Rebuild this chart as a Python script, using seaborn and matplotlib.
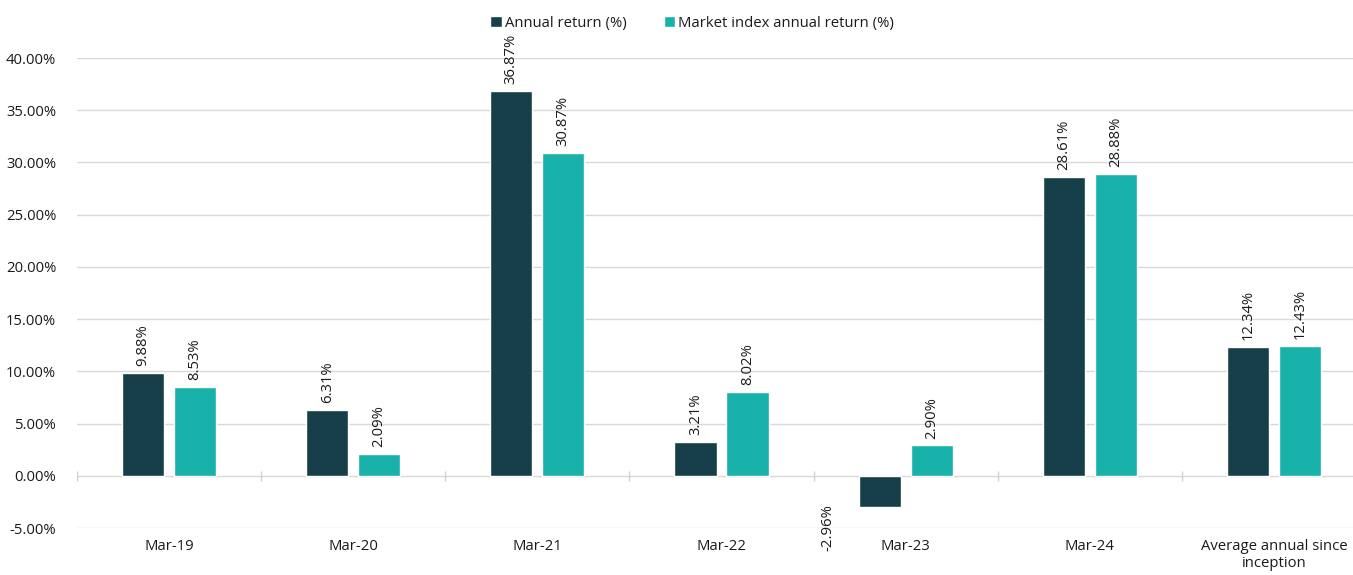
import matplotlib
matplotlib.use("Agg")
import matplotlib.pyplot as plt
import seaborn as sns
import pandas as pd

categories = ["Mar-19", "Mar-20", "Mar-21", "Mar-22", "Mar-23", "Mar-24", "Average annual since\ninception"]
annual_return = [9.88, 6.31, 36.87, 3.21, -2.96, 28.61, 12.34]
market_return = [8.53, 2.09, 30.87, 8.02, 2.90, 28.88, 12.43]
series_names = ["Annual return (%)", "Market index annual return (%)"]
colors = ["#163f4a", "#19b2aa"]
yticks = [-5, 0, 5, 10, 15, 20, 25, 30, 35, 40]

df = pd.DataFrame({
    "category": categories * 2,
    "value": annual_return + market_return,
    "series": [series_names[0]] * len(categories) + [series_names[1]] * len(categories),
})

sns.set_theme(style="white")
plt.rcParams["font.family"] = ["Open Sans", "DejaVu Sans"]

fig = plt.figure(figsize=(13.53, 5.75), dpi=100)
ax = fig.add_axes([77 / 1353, 47 / 575, 1289 / 1353, 470 / 575])

sns.barplot(data=df, x="category", y="value", hue="series", palette=colors,
            width=0.565, gap=0.19, ax=ax, legend=True, saturation=1)

ax.set_ylim(-5, 40)
ax.set_xlim(-0.5, len(categories) - 0.5)
ax.set_yticks(yticks)
ax.set_yticklabels([f"{v:.2f}%" for v in yticks], fontsize=10.7, color="#1a1a1a")
ax.tick_params(axis="y", length=0, pad=15)
ax.tick_params(axis="x", length=0, pad=8, labelsize=10.7, labelcolor="#1a1a1a")
ax.set_xlabel("")
ax.set_ylabel("")
for s in ax.spines.values():
    s.set_visible(False)
ax.yaxis.grid(True, color="#d9d9d9", linewidth=1)
ax.set_axisbelow(True)

# category boundary ticks on zero line
ax.vlines([i - 0.5 for i in range(len(categories))], -0.5, 0.5, color="#d0d0d0", linewidth=1)

# value labels
for cont in ax.containers:
    for bar in cont:
        h = bar.get_height()
        cx = bar.get_x() + bar.get_width() / 2
        if h >= 0:
            ax.annotate(f"{h:.2f}%", (cx, h), xytext=(0, 5), textcoords="offset points",
                        rotation=90, ha="center", va="bottom", fontsize=10.7, color="#1a1a1a")
        else:
            ax.annotate(f"{h:.2f}%", (cx, h), xytext=(-37, 2), textcoords="offset points",
                        rotation=90, ha="center", va="top", fontsize=10.7, color="#1a1a1a",
                        annotation_clip=False)

handles, labels = ax.get_legend_handles_labels()
ax.get_legend().remove()
fig.legend(handles, labels, loc="center", bbox_to_anchor=(692 / 1353, 1 - 23 / 575), ncol=2,
           frameon=False, fontsize=10.7, handlelength=0.8, handleheight=0.8,
           handletextpad=0.2, columnspacing=2.5, labelcolor="#1a1a1a")

fig.savefig("out.png", dpi=100)
